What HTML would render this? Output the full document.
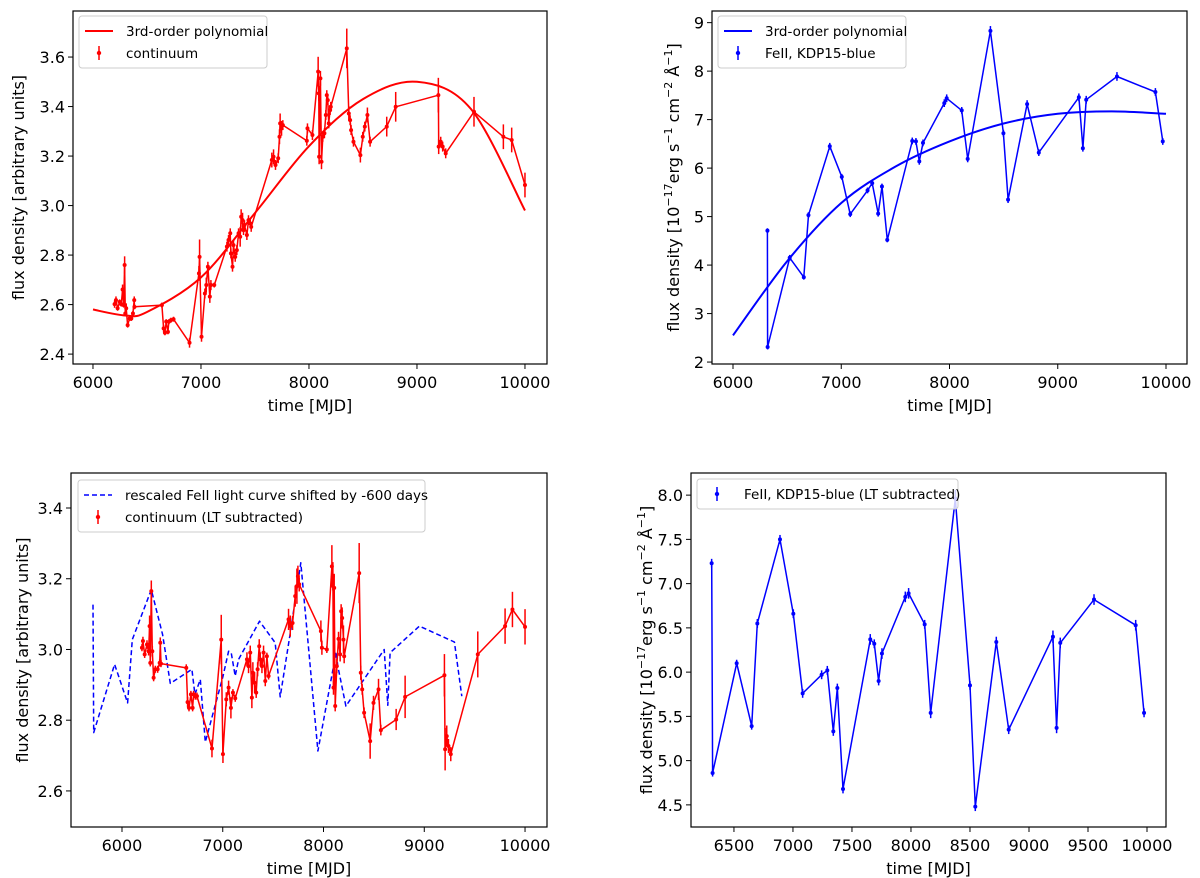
<!DOCTYPE html>
<html><head><meta charset="utf-8">
<style>
html,body{margin:0;padding:0;background:#fff;}
svg{display:block;font-family:"DejaVu Sans","Liberation Sans",sans-serif;}
</style></head>
<body>
<svg id="fig" width="1200" height="878" viewBox="0 0 1200 878"></svg>
<script>
// ---- Panel 1: continuum ----
const p1Time=[6200,6213,6228,6247,6262,6274,6284,6293,6299,6308,6321,6339,6355,6370,6382,6384,6638,6654,6666,6678,6694,6703,6722,6746,6894,6981,6987,7005,7036,7049,7064,7082,7092,7123,7240,7255,7271,7277,7292,7301,7317,7332,7348,7363,7372,7385,7394,7403,7425,7440,7456,7465,7656,7672,7690,7715,7727,7733,7746,7758,7980,7986,8032,8085,8091,8094,8106,8116,8128,8143,8156,8165,8174,8183,8196,8202,8350,8369,8381,8390,8412,8476,8498,8517,8541,8566,8720,8803,9198,9201,9220,9238,9266,9528,9800,9877,10000];
const p1Flux=[2.602,2.618,2.585,2.611,2.602,2.661,2.598,2.760,2.564,2.585,2.517,2.544,2.544,2.564,2.618,2.591,2.598,2.504,2.486,2.531,2.490,2.531,2.537,2.541,2.446,2.726,2.793,2.470,2.645,2.679,2.753,2.632,2.679,2.679,2.834,2.861,2.888,2.807,2.753,2.840,2.793,2.820,2.888,2.874,2.955,2.941,2.901,2.921,2.881,2.941,2.928,2.914,3.184,3.197,3.164,3.191,3.278,3.332,3.312,3.325,3.262,3.312,3.285,3.541,3.453,3.197,3.514,3.177,3.278,3.292,3.366,3.446,3.426,3.332,3.386,3.399,3.635,3.372,3.345,3.305,3.258,3.204,3.278,3.319,3.366,3.258,3.319,3.399,3.446,3.238,3.258,3.238,3.211,3.379,3.278,3.265,3.083];
const p1Err=[0.015,0.015,0.01,0.01,0.01,0.02,0.01,0.035,0.01,0.02,0.01,0.01,0.01,0.01,0.015,0.01,0.01,0.015,0.01,0.01,0.01,0.01,0.01,0.01,0.02,0.03,0.07,0.02,0.02,0.03,0.02,0.025,0.02,0.01,0.02,0.02,0.02,0.02,0.02,0.02,0.02,0.02,0.02,0.04,0.03,0.03,0.02,0.02,0.02,0.02,0.02,0.02,0.03,0.03,0.02,0.02,0.03,0.04,0.03,0.02,0.02,0.02,0.02,0.06,0.03,0.03,0.03,0.03,0.02,0.02,0.02,0.02,0.02,0.02,0.02,0.02,0.08,0.03,0.02,0.02,0.02,0.03,0.02,0.02,0.03,0.02,0.04,0.06,0.07,0.03,0.02,0.02,0.02,0.06,0.05,0.05,0.05];
const p1PolyTime=[6000,6300,6500,7000,7500,8000,8500,9000,9500,10000];
const p1PolyFlux=[2.58,2.556,2.57,2.71,2.97,3.24,3.43,3.50,3.39,2.98];
const p1XTicks=[6000,7000,8000,9000,10000];
const p1YTicks=[2.4,2.6,2.8,3.0,3.2,3.4,3.6];

// ---- Panel 2: FeII ----
const p2Time=[6318,6320,6524,6654,6697,6894,7005,7083,7243,7286,7341,7376,7425,7656,7690,7721,7755,7952,7974,8113,8168,8378,8498,8541,8717,8825,9195,9232,9263,9547,9902,9970];
const p2Flux=[4.71,2.31,4.15,3.75,5.03,6.45,5.82,5.05,5.54,5.69,5.06,5.62,4.52,6.56,6.55,6.14,6.52,7.34,7.44,7.19,6.19,8.83,6.72,5.35,7.32,6.32,7.46,6.41,7.41,7.89,7.57,6.55];
const p2Err=[0.05,0.05,0.06,0.05,0.06,0.07,0.06,0.06,0.06,0.06,0.06,0.06,0.05,0.07,0.07,0.07,0.07,0.08,0.08,0.07,0.07,0.1,0.07,0.07,0.08,0.07,0.08,0.07,0.08,0.09,0.08,0.07];
const p2PolyTime=[6000,6500,7000,7500,8000,8500,9000,9500,10000];
const p2PolyFlux=[2.55,4.08,5.28,6.03,6.55,6.92,7.12,7.17,7.12];
const p2XTicks=[6000,7000,8000,9000,10000];
const p2YTicks=[2,3,4,5,6,7,8,9];

// ---- Panel 3: continuum LT subtracted + shifted FeII ----
const p3Time=[6198,6208,6225,6248,6264,6274,6281,6291,6301,6314,6331,6354,6374,6380,6387,6638,6651,6665,6684,6701,6711,6727,6744,6893,6985,7002,7035,7058,7081,7101,7124,7240,7256,7273,7289,7299,7316,7332,7346,7362,7372,7389,7405,7422,7438,7455,7653,7670,7693,7719,7736,7746,7759,7974,7984,8033,8083,8093,8099,8106,8116,8132,8149,8165,8175,8185,8198,8205,8354,8370,8384,8403,8463,8496,8546,8569,8721,8810,9200,9207,9223,9240,9263,9531,9802,9875,10000];
const p3Flux=[3.005,3.024,2.986,3.014,2.995,3.066,2.962,3.165,2.995,2.920,2.944,2.944,2.962,3.019,2.960,2.948,2.851,2.835,2.873,2.835,2.873,2.868,2.868,2.720,3.028,2.704,2.859,2.892,2.835,2.878,2.862,2.972,2.953,2.991,2.864,2.934,2.906,2.878,2.944,3.009,2.972,2.953,2.991,2.911,2.981,2.925,3.085,3.066,3.075,3.151,3.179,3.207,3.184,3.052,3.005,3.000,3.235,3.207,2.892,3.174,2.840,2.953,3.030,2.986,3.108,3.089,3.028,2.981,3.216,2.934,2.887,2.821,2.741,2.849,2.887,2.772,2.802,2.866,2.927,2.718,2.755,2.727,2.704,2.986,3.066,3.113,3.064];
const p3Err=[0.01,0.012,0.01,0.012,0.012,0.03,0.01,0.03,0.015,0.01,0.01,0.01,0.01,0.015,0.01,0.01,0.015,0.01,0.01,0.01,0.01,0.01,0.01,0.025,0.07,0.025,0.02,0.02,0.03,0.01,0.01,0.02,0.02,0.02,0.03,0.03,0.03,0.015,0.02,0.02,0.02,0.02,0.02,0.015,0.01,0.01,0.03,0.03,0.02,0.03,0.05,0.03,0.02,0.03,0.02,0.01,0.06,0.04,0.02,0.04,0.015,0.02,0.02,0.02,0.02,0.03,0.04,0.02,0.085,0.02,0.015,0.015,0.05,0.02,0.03,0.015,0.03,0.06,0.06,0.06,0.03,0.02,0.02,0.065,0.05,0.05,0.05];
const p3ShiftTime=[5712,5719,5927,6056,6102,6291,6403,6479,6694,6724,6777,6827,7002,7058,7084,7124,7157,7365,7521,7570,7670,7775,7944,8126,8142,8222,8602,8638,8661,8952,9299,9372];
const p3ShiftFlux=[3.127,2.765,2.958,2.849,3.028,3.169,3.042,2.904,2.944,2.873,2.915,2.738,2.923,2.995,2.991,2.925,2.972,3.080,3.019,2.866,3.047,3.245,2.713,2.993,2.953,2.840,3.000,2.842,2.991,3.066,3.021,2.868];
const p3XTicks=[6000,7000,8000,9000,10000];
const p3YTicks=[2.6,2.8,3.0,3.2,3.4];

// ---- Panel 4: FeII LT subtracted ----
const p4Time=[6311,6319,6523,6650,6698,6890,7003,7082,7243,7291,7342,7376,7424,7655,7689,7726,7754,7952,7980,8116,8167,8376,8500,8545,8723,8828,9203,9234,9265,9551,9904,9975];
const p4Flux=[7.23,4.86,6.10,5.39,6.55,7.50,6.66,5.76,5.97,6.02,5.33,5.82,4.68,6.37,6.32,5.90,6.21,6.85,6.89,6.54,5.54,7.96,5.85,4.48,6.34,5.35,6.40,5.37,6.33,6.82,6.53,5.54];
const p4Err=[0.05,0.04,0.04,0.04,0.05,0.05,0.05,0.05,0.05,0.05,0.05,0.05,0.05,0.06,0.05,0.05,0.06,0.06,0.06,0.05,0.06,0.1,0.05,0.05,0.06,0.05,0.07,0.06,0.06,0.06,0.06,0.05];
const p4XTicks=[6500,7000,7500,8000,8500,9000,9500,10000];
const p4YTicks=[4.5,5.0,5.5,6.0,6.5,7.0,7.5,8.0];

const NS="http://www.w3.org/2000/svg";
const svg=document.getElementById('fig');
function el(tag,attrs,parent){const e=document.createElementNS(NS,tag);for(const k in attrs)e.setAttribute(k,attrs[k]);(parent||svg).appendChild(e);return e;}
function mkAxes(box,xd,yd){
  const xs=v=>box.x+(v-xd[0])/(xd[1]-xd[0])*box.w;
  const ys=v=>box.y+box.h-(v-yd[0])/(yd[1]-yd[0])*box.h;
  return {xs,ys};
}
function fmtY(v,dec){return v.toFixed(dec);}
function drawFrame(g,box,ax,xt,yt,dec,xlab,ylabHTML,ylx){
  xt.forEach(t=>{const x=ax.xs(t);
    const l=el('line',{x1:x,x2:x,y1:box.y+box.h,y2:box.y+box.h+5,stroke:'#000','stroke-width':1},g);
    
    
    const tx=el('text',{x:x,y:box.y+box.h+24,'text-anchor':'middle','font-size':16,fill:'#000'},g);
    tx.textContent=String(t);
    
    
  });
  yt.forEach(t=>{const y=ax.ys(t);
    const l=el('line',{x1:box.x-5,x2:box.x,y1:y,y2:y,stroke:'#000','stroke-width':1},g);
    
    
    const tx=el('text',{x:box.x-8,y:y+6,'text-anchor':'end','font-size':16,fill:'#000'},g);
    tx.textContent=fmtY(t,dec);
    
    
  });
  const xl=el('text',{x:box.x+box.w/2,y:box.y+box.h+47,'text-anchor':'middle','font-size':16,fill:'#000'},g);
  xl.textContent=xlab;
  
  
  const yl=el('text',{x:0,y:0,'text-anchor':'middle','font-size':16,fill:'#000',transform:`translate(${ylx},${box.y+box.h/2}) rotate(-90)`},g);
  yl.innerHTML=ylabHTML;
  
  
}
function border(g,box){const r=el('rect',{x:box.x,y:box.y,width:box.w,height:box.h,fill:'none',stroke:'#000','stroke-width':1.2},g);
  }
function clip(id,box){const d=el('clipPath',{id:id});el('rect',{x:box.x,y:box.y,width:box.w,height:box.h},d);}
function polyline(g,ax,T,V,color,w,dash,name){
  const pts=T.map((t,i)=>ax.xs(t).toFixed(1)+','+ax.ys(V[i]).toFixed(1)).join(' ');
  const p=el('polyline',{points:pts,fill:'none',stroke:color,'stroke-width':w,'stroke-linejoin':'round'},g);
  if(dash)p.setAttribute('stroke-dasharray',dash);
  
  
}
function smooth(g,ax,T,V,color,w,name){
  const P=T.map((t,i)=>[ax.xs(t),ax.ys(V[i])]);
  let d='M'+P[0][0]+','+P[0][1];
  for(let i=0;i<P.length-1;i++){
    const p0=P[Math.max(0,i-1)],p1=P[i],p2=P[i+1],p3=P[Math.min(P.length-1,i+2)];
    const c1=[p1[0]+(p2[0]-p0[0])/6,p1[1]+(p2[1]-p0[1])/6];
    const c2=[p2[0]-(p3[0]-p1[0])/6,p2[1]-(p3[1]-p1[1])/6];
    d+=` C${c1[0]},${c1[1]} ${c2[0]},${c2[1]} ${p2[0]},${p2[1]}`;
  }
  const p=el('path',{d:d,fill:'none',stroke:color,'stroke-width':w},g);
  
  
}
function errbars(g,ax,T,V,E,color){
  T.forEach((t,i)=>{const x=ax.xs(t);
    const l=el('line',{x1:x,x2:x,y1:ax.ys(V[i]-E[i]),y2:ax.ys(V[i]+E[i]),stroke:color,'stroke-width':1.5},g);
    
    
    const c=el('circle',{cx:x,cy:ax.ys(V[i]),r:2,fill:color},g);
    
    
  });
}
function legend(g,x,y,w,entries){
  const h=entries.length*22+8;
  const r=el('rect',{x:x,y:y,width:w,height:h,rx:3,fill:'#fff','fill-opacity':0.8,stroke:'#ccc','stroke-width':1},g);
  
  entries.forEach((e,i)=>{const cy=y+15+i*22;
    const eg=el('g',{},g);
    
    
    if(e.type==='line'){const l=el('line',{x1:x+6,x2:x+34,y1:cy,y2:cy,stroke:e.color,'stroke-width':e.w||2},eg);if(e.dash)l.setAttribute('stroke-dasharray',e.dash);}
    else{el('line',{x1:x+20,x2:x+20,y1:cy-7,y2:cy+7,stroke:e.color,'stroke-width':1.5},eg);el('circle',{cx:x+20,cy:cy,r:2.2,fill:e.color},eg);}
    const t=el('text',{x:x+47,y:cy+5,'font-size':13.5,fill:'#000'},eg);t.textContent=e.label;
  });
}
const yUnit='flux density [10<tspan dy="-7" font-size="11">−17</tspan><tspan dy="7">erg s</tspan><tspan dy="-7" font-size="11">−1</tspan><tspan dy="7"> cm</tspan><tspan dy="-7" font-size="11">−2</tspan><tspan dy="7"> Å</tspan><tspan dy="-7" font-size="11">−1</tspan><tspan dy="7">]</tspan>';

// Panel 1
{const box={x:73,y:11,w:474,h:353};const ax=mkAxes(box,[5815,10204],[2.36,3.786]);
 const g=el('g',{});
 clip('c1',box);const pg=el('g',{'clip-path':'url(#c1)'},g);
 polyline(pg,ax,p1Time,p1Flux,'#f00',1.5,null,'continuum-line');
 errbars(pg,ax,p1Time,p1Flux,p1Err,'#f00');
 smooth(pg,ax,p1PolyTime,p1PolyFlux,'#f00',2,'polynomial-fit');
 border(g,box);drawFrame(g,box,ax,p1XTicks,p1YTicks,1,'time [MJD]','flux density [arbitrary units]',24);
 legend(g,79,16,188,[{type:'line',color:'#f00',label:'3rd-order polynomial'},{type:'err',color:'#f00',label:'continuum'}]);}
// Panel 2
{const box={x:712,y:11,w:475,h:353};const ax=mkAxes(box,[5806,10194],[1.96,9.24]);
 const g=el('g',{});
 clip('c2',box);const pg=el('g',{'clip-path':'url(#c2)'},g);
 polyline(pg,ax,p2Time,p2Flux,'#00f',1.5,null,'feii-line');
 errbars(pg,ax,p2Time,p2Flux,p2Err,'#00f');
 smooth(pg,ax,p2PolyTime,p2PolyFlux,'#00f',2,'polynomial-fit');
 border(g,box);drawFrame(g,box,ax,p2XTicks,p2YTicks,0,'time [MJD]',yUnit,679);
 legend(g,718,16,188,[{type:'line',color:'#00f',label:'3rd-order polynomial'},{type:'err',color:'#00f',label:'FeII, KDP15-blue'}]);}
// Panel 3
{const box={x:71,y:473,w:476,h:354};const ax=mkAxes(box,[5494,10218],[2.498,3.499]);
 const g=el('g',{});
 clip('c3',box);const pg=el('g',{'clip-path':'url(#c3)'},g);
 polyline(pg,ax,p3ShiftTime,p3ShiftFlux,'#00f',1.5,'5,3','shifted-feii-curve');
 polyline(pg,ax,p3Time,p3Flux,'#f00',1.5,null,'continuum-line');
 errbars(pg,ax,p3Time,p3Flux,p3Err,'#f00');
 border(g,box);drawFrame(g,box,ax,p3XTicks,p3YTicks,1,'time [MJD]','flux density [arbitrary units]',28);
 legend(g,78,480,347,[{type:'line',color:'#00f',dash:'5,3',w:1.5,label:'rescaled FeII light curve shifted by -600 days'},{type:'err',color:'#f00',label:'continuum (LT subtracted)'}]);}
// Panel 4
{const box={x:691,y:473,w:475,h:354};const ax=mkAxes(box,[6136,10161],[4.25,8.25]);
 const g=el('g',{});
 clip('c4',box);const pg=el('g',{'clip-path':'url(#c4)'},g);
 legend(g,697,479,261,[{type:'err',color:'#00f',label:'FeII, KDP15-blue (LT subtracted)'}]);
 polyline(pg,ax,p4Time,p4Flux,'#00f',1.5,null,'feii-line');
 errbars(pg,ax,p4Time,p4Flux,p4Err,'#00f');
 border(g,box);drawFrame(g,box,ax,p4XTicks,p4YTicks,1,'time [MJD]',yUnit,652);}
</script>
</body></html>
